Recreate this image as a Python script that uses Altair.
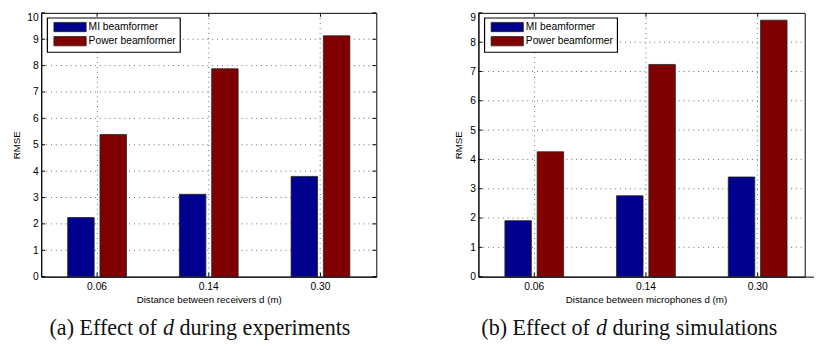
import altair as alt
import pandas as pd

cats = ["0.06", "0.14", "0.30"]
methods = ["MI beamformer", "Power beamformer"]
colors = ["#00008F", "#800000"]

exp_mi = [2.24, 3.12, 3.80]
exp_pw = [5.39, 7.88, 9.13]
sim_mi = [1.91, 2.76, 3.40]
sim_pw = [4.26, 7.24, 8.75]

exp_yticks = list(range(0, 11))
sim_yticks = list(range(0, 10))

exp_xtitle = "Distance between receivers d (m)"
sim_xtitle = "Distance between microphones d (m)"
ytitle = "RMSE"

exp_caption = ["(a) Effect of", "d", "during experiments"]
sim_caption = ["(b) Effect of", "d", "during simulations"]

XR = 343      # length of the category axis
H = 270
FONT = "Liberation Sans"
SERIF = "Liberation Serif"
CAP_FS = 22.6
CAP_Y = 330
GRID = dict(color="#666", strokeDash=[1, 4], strokeWidth=1)


def panel(mi, pw, yticks, xtitle, caption, cap_x, W, right_ticks=True):
    ymax = yticks[-1]
    bars_df = pd.DataFrame({
        "d": cats * 2,
        "method": [methods[0]] * len(cats) + [methods[1]] * len(cats),
        "rmse": mi + pw,
    })
    xscale = alt.Scale(paddingInner=0, paddingOuter=0, range=[0, XR])
    x_axis = alt.Axis(title=xtitle, labelAngle=0, grid=True, bandPosition=0.5,
                      ticks=False, labelPadding=5, titlePadding=3)
    y_axis = alt.Axis(title=ytitle, values=yticks, grid=False, ticks=False,
                      labelPadding=3, titlePadding=6,
                      labelBaseline={"condition": {"test": f"datum.value == {ymax}", "value": "top"},
                                     "value": "middle"})
    yscale = alt.Scale(domain=[0, ymax], nice=False, zero=True)

    grid_df = pd.DataFrame({"v": yticks[1:-1]})
    hgrid = alt.Chart(grid_df).mark_rule(**GRID).encode(
        y=alt.Y("v:Q", scale=yscale, axis=y_axis), x=alt.value(0), x2=alt.value(W))

    bars = alt.Chart(bars_df).mark_bar(stroke="#222", strokeWidth=0.8).encode(
        x=alt.X("d:N", sort=cats, scale=xscale, axis=x_axis),
        xOffset=alt.XOffset("method:N", sort=methods,
                            scale=alt.Scale(paddingInner=0.18, paddingOuter=0.82)),
        y=alt.Y("rmse:Q", scale=yscale, axis=y_axis),
        color=alt.Color("method:N", sort=methods,
                        scale=alt.Scale(domain=methods, range=colors),
                        legend=alt.Legend(title=None, orient="none", legendX=6, legendY=5,
                                          symbolType="M-3.3,-0.95H3.3V0.95H-3.3Z", symbolSize=100,
                                          symbolStrokeColor="#222", symbolStrokeWidth=0.8,
                                          labelFontSize=10.5, labelColor="#000", labelOffset=13.5,
                                          strokeColor="#000", fillColor="#fff",
                                          padding=4, rowPadding=1.5, symbolOffset=14)),
    )

    yt_df = pd.DataFrame({"v": yticks})
    layers = [hgrid, bars]
    layers.append(alt.Chart(yt_df).mark_rule(color="#000", strokeWidth=1).encode(
        y=alt.Y("v:Q", scale=yscale, axis=y_axis), x=alt.value(0), x2=alt.value(4)))
    if right_ticks:
        layers.append(alt.Chart(yt_df).mark_rule(color="#000", strokeWidth=1).encode(
            y=alt.Y("v:Q", scale=yscale, axis=y_axis), x=alt.value(W - 4), x2=alt.value(W)))

    xt_df = pd.DataFrame({"d": cats})
    layers.append(alt.Chart(xt_df).mark_rule(color="#000", strokeWidth=1).encode(
        x=alt.X("d:N", sort=cats, scale=xscale, axis=x_axis),
        y=alt.value(H - 4), y2=alt.value(H)))
    layers.append(alt.Chart(xt_df).mark_rule(color="#000", strokeWidth=1).encode(
        x=alt.X("d:N", sort=cats, scale=xscale, axis=x_axis),
        y=alt.value(0), y2=alt.value(4)))

    u = CAP_FS / 1000.0
    first_w = {"(a) Effect of": 4886, "(b) Effect of": 4942}[caption[0]] * u
    space = 250 * u
    d_w = 500 * u
    xs = [cap_x, cap_x + first_w + space, cap_x + first_w + space + d_w + space]
    styles = ["normal", "italic", "normal"]
    for txt, xp, st in zip(caption, xs, styles):
        layers.append(
            alt.Chart(pd.DataFrame({"t": [txt]})).mark_text(
                font=SERIF, fontSize=CAP_FS, fontStyle=st, align="left",
                baseline="alphabetic", color="#111").encode(
                text="t:N", x=alt.value(xp), y=alt.value(CAP_Y))
        )

    return alt.layer(*layers).properties(width=W, height=H)


left = panel(exp_mi, exp_pw, exp_yticks, exp_xtitle, exp_caption, 8.5, XR)
right = panel(sim_mi, sim_pw, sim_yticks, sim_xtitle, sim_caption, 3.0, 334, right_ticks=False)

chart = alt.hconcat(left, right, spacing=77.5).resolve_scale(color="independent").properties(
    padding={"left": 2, "top": 0, "right": 0, "bottom": 0},
    background="#ffffff",
).configure(font=FONT).configure_view(
    stroke="#000", strokeWidth=1
).configure_axis(
    labelFont=FONT, labelFontSize=10.5, labelColor="#000",
    titleFont=FONT, titleFontSize=10, titleFontWeight="normal", titleColor="#000",
    domain=True, domainColor="#000", domainWidth=1,
    gridColor="#666", gridDash=[1, 4], gridWidth=1, gridOpacity=1,
).configure_legend(
    labelFont=FONT, strokeWidth=1.2,
)

chart.save("out.html", embed_options={"renderer": "svg", "actions": False})
